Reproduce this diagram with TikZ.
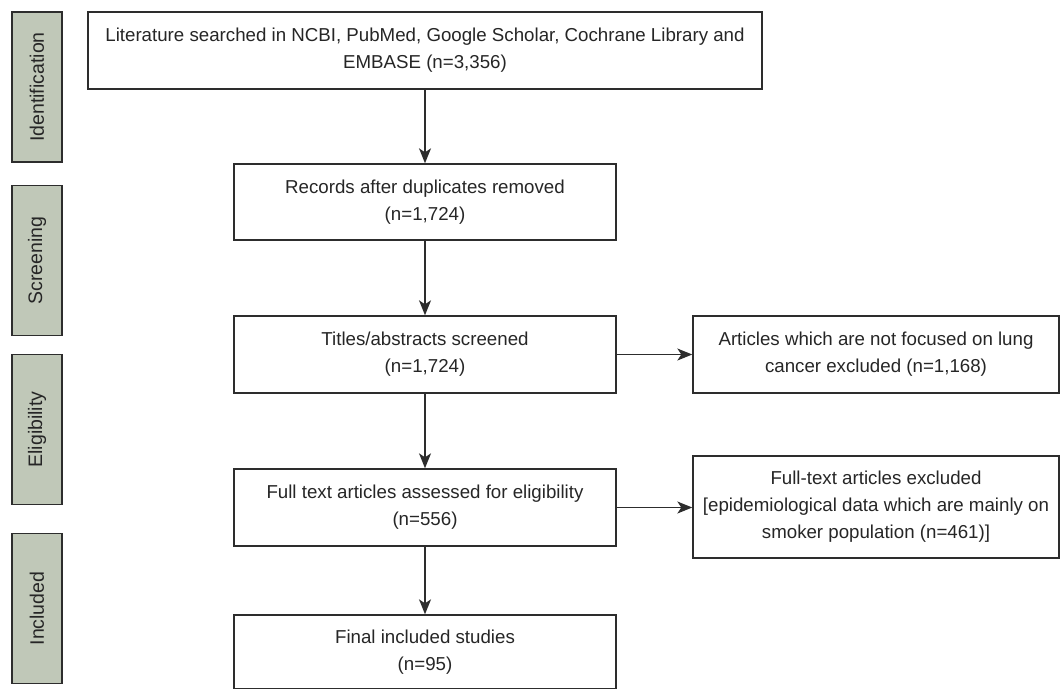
\documentclass[tikz,border=0pt]{standalone}
\usepackage{fontspec}
\setmainfont{Liberation Sans}
\usetikzlibrary{arrows.meta}
\definecolor{barfill}{RGB}{192,200,184}
\definecolor{linec}{RGB}{45,45,45}
\begin{document}
\begin{tikzpicture}[x=1pt,y=-1pt,
  box/.style={draw=linec,line width=1.4pt,fill=white,inner sep=0pt,align=center,
     font=\fontsize{18.7pt}{27pt}\selectfont,text=black!85},
  phase/.style={draw=linec,line width=1.4pt,fill=barfill,inner sep=0pt,
     minimum width=50pt,font=\fontsize{19.5pt}{22pt}\selectfont,text=black!85},
  arr/.style={draw=linec,line width=1.4pt,-{Stealth[length=15pt,width=12pt,inset=4pt]}}]
\useasboundingbox (0,0) rectangle (1064,688);
% phase bars
\node[phase,minimum height=150pt] (ph1) at (37,87) {\rotatebox{90}{Identification}};
\node[phase,minimum height=150pt] (ph2) at (37,260.5) {\rotatebox{90}{Screening}};
\node[phase,minimum height=150pt] (ph3) at (37,429.5) {\rotatebox{90}{Eligibility}};
\node[phase,minimum height=150pt] (ph4) at (37,608.5) {\rotatebox{90}{Included}};
% main boxes
\node[box,minimum width=674pt,minimum height=77pt] (b1) at (425,50.5)
  {Literature searched in NCBI, PubMed, Google Scholar, Cochrane Library and\\EMBASE (n=3,356)};
\node[box,minimum width=382pt,minimum height=76pt] (b2) at (425,202)
  {Records after duplicates removed\\(n=1,724)};
\node[box,minimum width=382pt,minimum height=77pt] (b3) at (425,354.5)
  {Titles/abstracts screened\\(n=1,724)};
\node[box,minimum width=382pt,minimum height=77pt] (b4) at (425,507.5)
  {Full text articles assessed for eligibility\\(n=556)};
\node[box,minimum width=382pt,minimum height=74pt] (b5) at (425,652)
  {Final included studies\\(n=95)};
% side boxes
\node[box,minimum width=366pt,minimum height=77pt] (s1) at (876,354.5)
  {Articles which are not focused on lung\\cancer excluded (n=1,168)};
\node[box,minimum width=366pt,minimum height=102pt] (s2) at (876,507)
  {Full-text articles excluded\\{[}epidemiological data which are mainly on\\smoker population (n=461)]};
% arrows
\draw[arr] (b1) -- (b2);
\draw[arr] (b2) -- (b3);
\draw[arr] (b3) -- (b4);
\draw[arr] (b4) -- (b5);
\draw[arr] (b3) -- (s1);
\draw[arr] (b4.east) -- (s2.west |- b4.east);
\end{tikzpicture}
\end{document}
